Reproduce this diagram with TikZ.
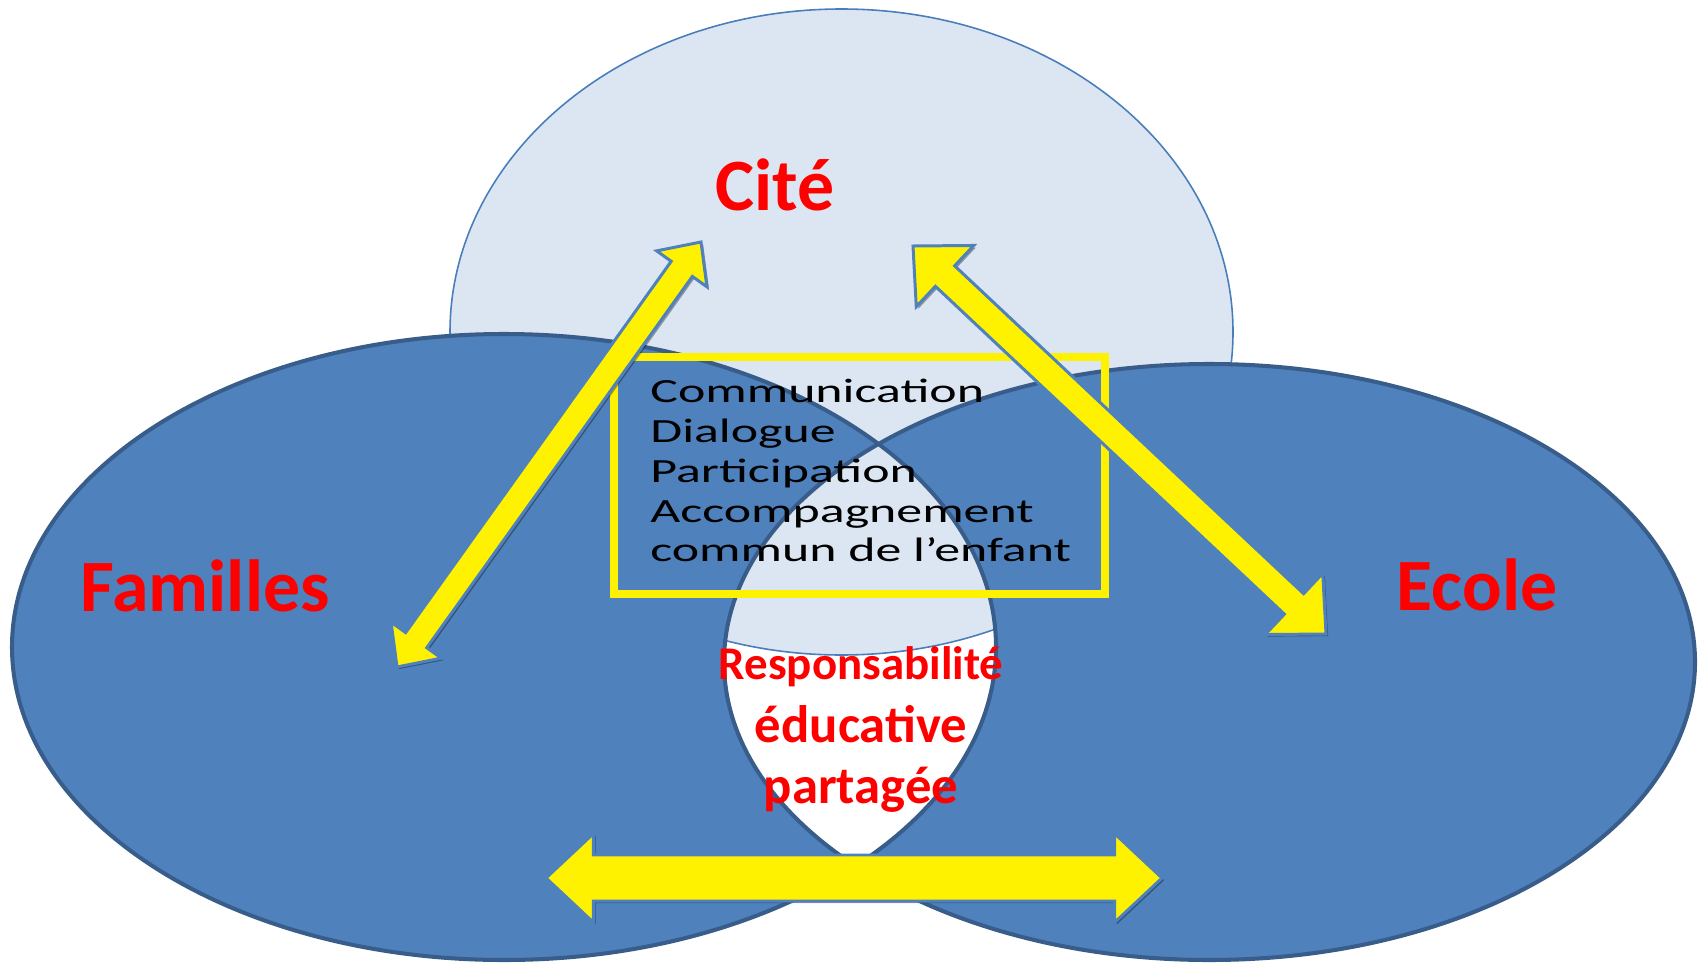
\documentclass[tikz,border=0pt]{standalone}
\usepackage{fontspec}
\setmainfont{Carlito}
\newfontfamily\listfont[FakeStretch=1.53]{Carlito}
\usepackage{tikz}
\usetikzlibrary{calc}
\usetikzlibrary{shadows}
\definecolor{citefill}{RGB}{220,230,242}
\definecolor{citeedge}{RGB}{74,126,187}
\definecolor{circlefill}{RGB}{79,129,189}
\definecolor{circleedge}{RGB}{56,93,138}
\definecolor{arrowedge}{RGB}{79,129,189}
\tikzstyle{title} = [text=red, font=\bfseries\fontsize{42}{50}\selectfont, inner sep=0pt]
\tikzstyle{shared} = [text=red, font=\bfseries\fontsize{26.7}{32}\selectfont, inner sep=0pt]
\tikzstyle{shared big} = [shared, font=\bfseries\fontsize{30}{36}\selectfont]
\tikzstyle{listitem} = [text=black, font=\listfont\fontsize{19.3}{23}\selectfont, inner sep=0pt]
\tikzstyle{fat arrow} = [fill=yellow, draw=arrowedge, line width=1.7pt, line join=miter,
    drop shadow={shadow xshift=1.2pt, shadow yshift=-1.2pt, opacity=0.35, fill=black}]
% #1 tip, #2 tip, #3 shaft half width, #4 head half width, #5 head length
\newcommand{\fatarrow}[5]{%
  \filldraw[fat arrow]
    (#1) -- ($(#1)!#5!(#2)!#4!90:(#2)$) -- ($(#1)!#5!(#2)!#3!90:(#2)$)
    -- ($(#2)!#5!(#1)!#3!-90:(#1)$) -- ($(#2)!#5!(#1)!#4!-90:(#1)$)
    -- (#2) -- ($(#2)!#5!(#1)!#4!90:(#1)$) -- ($(#2)!#5!(#1)!#3!90:(#1)$)
    -- ($(#1)!#5!(#2)!#3!-90:(#2)$) -- ($(#1)!#5!(#2)!#4!-90:(#2)$) -- cycle;}

\begin{document}
\begin{tikzpicture}[x=0.02cm, y=-0.02cm]
    \useasboundingbox (0,0) rectangle (1703,963);

    % the three circles
    \filldraw[fill=citefill, draw=citeedge, line width=0.9pt]
        (841.5,332) ellipse [x radius=391.5, y radius=323];
    \fill[circlefill, even odd rule]
        (504,647) ellipse [x radius=492, y radius=313]
        (1209.5,662) ellipse [x radius=485.5, y radius=298];
    \draw[circleedge, line width=2.3pt]
        (504,647) ellipse [x radius=492, y radius=313]
        (1209.5,662) ellipse [x radius=485.5, y radius=298];

    % box
    \draw[yellow, line width=4.5pt] (614,357) rectangle (1105,594);
    \foreach \txt [count=\i] in {Communication, Dialogue, Participation, Accompagnement, commun de l’enfant}
        \node[listitem, anchor=base west] (item\i) at (650, 363+39.75*\i) {\txt};

    \node[title, anchor=base] (cite) at (775,210) {Cité};
    \node[title, anchor=base] (familles) at (205,611) {Familles};
    \node[title, anchor=base] (ecole) at (1477,610) {Ecole};
    \node[shared, anchor=base] (shared1) at (861,679) {Responsabilité};
    \node[shared big, anchor=base] (shared2) at (861,742) {éducative};
    \node[shared big, anchor=base] (shared3) at (861,803) {partagée};

    % arrows
    \coordinate (famtip) at (397,667);
    \coordinate (citetipl) at (701,242);
    \coordinate (citetipr) at (913,246);
    \coordinate (ecoletip) at (1326,634);
    \coordinate (lefttip) at (546,878);
    \coordinate (righttip) at (1162,878);
    \fatarrow{famtip}{citetipl}{7.4pt}{17.6pt}{18.8pt}
    \fatarrow{citetipr}{ecoletip}{8pt}{23.9pt}{25pt}
    \fatarrow{lefttip}{righttip}{13.1pt}{25.3pt}{27pt}
\end{tikzpicture}
\end{document}
